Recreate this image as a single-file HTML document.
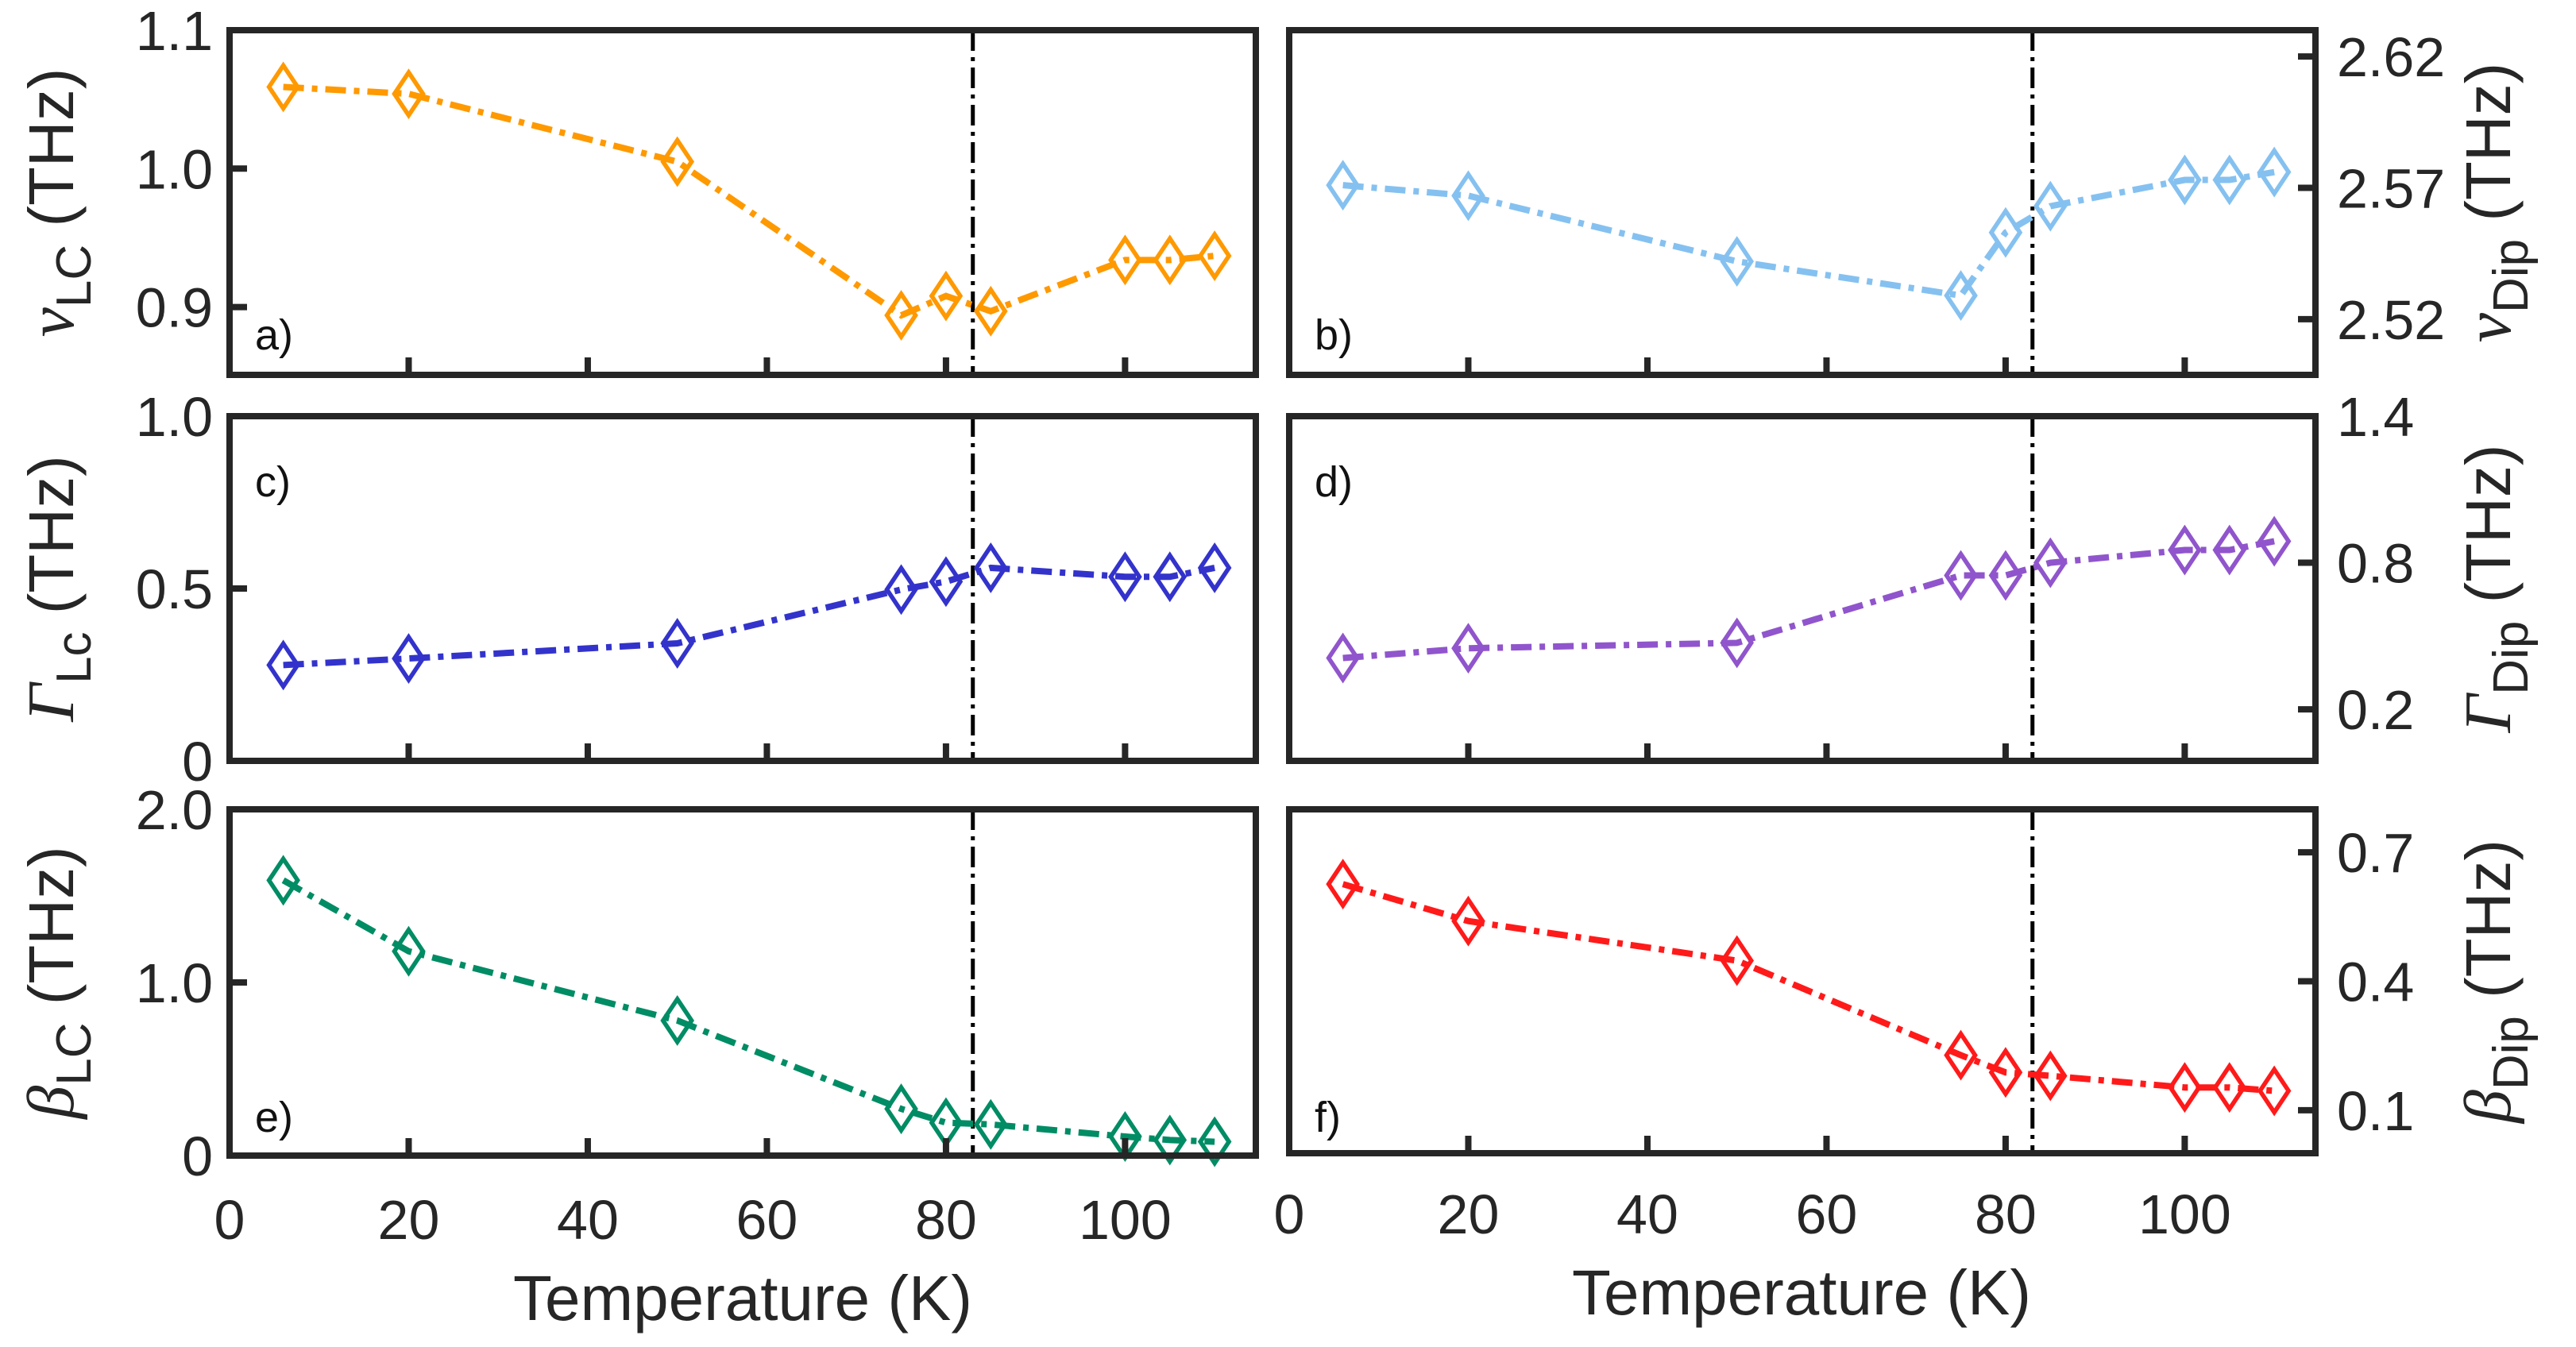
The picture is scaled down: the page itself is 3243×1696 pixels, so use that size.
<!DOCTYPE html>
<html><head><meta charset="utf-8"><style>
html,body{margin:0;padding:0;background:#fff;}
svg{display:block;font-family:"Liberation Sans",Arial,sans-serif;}
</style></head><body>
<svg id="chart" width="3243" height="1696" viewBox="0 0 3243 1696" xmlns="http://www.w3.org/2000/svg"></svg>
<script>
const temps = [6, 20, 50, 75, 80, 85, 100, 105, 110];
const nuLC = [1.059, 1.054, 1.005, 0.894, 0.908, 0.897, 0.934, 0.934, 0.937];
const nuDip = [2.571, 2.567, 2.542, 2.529, 2.553, 2.563, 2.573, 2.573, 2.576];
const gammaLC = [0.278, 0.297, 0.341, 0.497, 0.52, 0.56, 0.534, 0.534, 0.56];
const gammaDip = [0.41, 0.45, 0.472, 0.748, 0.748, 0.80, 0.852, 0.852, 0.888];
const betaLC = [1.59, 1.18, 0.78, 0.27, 0.19, 0.18, 0.11, 0.09, 0.08];
const betaDip = [0.626, 0.54, 0.448, 0.228, 0.188, 0.18, 0.153, 0.153, 0.145];
const xTicks = [0, 20, 40, 60, 80, 100];
const transitionT = 83;
const ticksA = [0.9, 1.0, 1.1], ticksB = [2.52, 2.57, 2.62];
const ticksC = [0, 0.5, 1.0], ticksD = [0.2, 0.8, 1.4];
const ticksE = [0, 1.0, 2.0], ticksF = [0.1, 0.4, 0.7];

const NS = "http://www.w3.org/2000/svg";
const svg = document.getElementById('chart');
function mk(tag, attrs, parent, text) {
  const e = document.createElementNS(NS, tag);
  for (const k in attrs) e.setAttribute(k, attrs[k]);
  if (text !== undefined) e.textContent = text;
  (parent || svg).appendChild(e);
  return e;
}

const panels = [
  {id:'a', x0:289, x1:1581, y0:38, y1:472, ymin:0.851, ymax:1.1, data:nuLC, ticks:ticksA, fmt:v=>v.toFixed(1), side:'left', color:'#FF9900', greek:'ν', sub:'LC', lab:'a)', labY:440},
  {id:'b', x0:1623, x1:2915, y0:38, y1:472, ymin:2.4988, ymax:2.630, data:nuDip, ticks:ticksB, fmt:v=>v.toFixed(2), side:'right', color:'#85C1F0', greek:'ν', sub:'Dip', lab:'b)', labY:440},
  {id:'c', x0:289, x1:1581, y0:524, y1:958, ymin:0, ymax:1.0, data:gammaLC, ticks:ticksC, fmt:v=>v===0?'0':v.toFixed(1), side:'left', color:'#3333CC', greek:'Γ', sub:'Lc', lab:'c)', labY:625},
  {id:'d', x0:1623, x1:2915, y0:524, y1:958, ymin:-0.011, ymax:1.4, data:gammaDip, ticks:ticksD, fmt:v=>v.toFixed(1), side:'right', color:'#9055CC', greek:'Γ', sub:'Dip', lab:'d)', labY:625},
  {id:'e', x0:289, x1:1581, y0:1019, y1:1455, ymin:0, ymax:2.0, data:betaLC, ticks:ticksE, fmt:v=>v===0?'0':v.toFixed(1), side:'left', color:'#008C64', greek:'β', sub:'LC', lab:'e)', labY:1425},
  {id:'f', x0:1623, x1:2915, y0:1019, y1:1452, ymin:0, ymax:0.8, data:betaDip, ticks:ticksF, fmt:v=>v.toFixed(1), side:'right', color:'#FF1A1A', greek:'β', sub:'Dip', lab:'f)', labY:1425}
];

panels.forEach(p => {
  const g = mk('g', {});
  
  
  const xs = t => p.x0 + (t - 0) / 114.6 * (p.x1 - p.x0);
  const ys = v => p.y1 - (v - p.ymin) / (p.ymax - p.ymin) * (p.y1 - p.y0);
  const tl = mk('line', {x1:xs(transitionT), x2:xs(transitionT), y1:p.y0, y2:p.y1, stroke:'#000', 'stroke-width':5, 'stroke-dasharray':'26 8 5 8'}, g);
  
  
  const pts = temps.map((t,i)=> xs(t)+','+ys(p.data[i])).join(' ');
  const pl = mk('polyline', {points:pts, fill:'none', stroke:p.color, 'stroke-width':8, 'stroke-dasharray':'26 10 7 10'}, g);
  
  
  temps.forEach((t,i)=>{
    const cx = xs(t), cy = ys(p.data[i]);
    const m = mk('polygon', {points:`${cx},${cy-27} ${cx+18},${cy} ${cx},${cy+27} ${cx-18},${cy}`, fill:'none', stroke:p.color, 'stroke-width':5.5}, g);
    
    
  });
  xTicks.forEach(t=>{
    if (t===0) return;
    mk('line', {x1:xs(t), x2:xs(t), y1:p.y1, y2:p.y1-22, stroke:'#262626', 'stroke-width':8}, g);
  });
  p.ticks.forEach(v=>{
    const y = ys(v);
    if (p.side==='left') {
      mk('line', {x1:p.x0, x2:p.x0+22, y1:y, y2:y, stroke:'#262626', 'stroke-width':8}, g);
      const tx = mk('text', {x:268, y:y+25, 'text-anchor':'end', 'font-size':70, fill:'#262626'}, g, p.fmt(v));
      
      
    } else {
      mk('line', {x1:p.x1, x2:p.x1-22, y1:y, y2:y, stroke:'#262626', 'stroke-width':8}, g);
      const tx = mk('text', {x:2942, y:y+25, 'text-anchor':'start', 'font-size':70, fill:'#262626'}, g, p.fmt(v));
      
      
    }
  });
  const fr = mk('rect', {x:p.x0, y:p.y0, width:p.x1-p.x0, height:p.y1-p.y0, fill:'none', stroke:'#262626', 'stroke-width':8}, g);
  
  
  const pl2 = mk('text', {x:p.x0+32, y:p.labY, 'font-size':54, fill:'#111'}, g, p.lab);
  
  
  const cy = (p.y0+p.y1)/2;
  const cx = p.side==='left' ? 92 : 3160;
  const yt = mk('text', {transform:`translate(${cx},${cy}) rotate(-90)`, 'text-anchor':'middle', 'font-size':80, fill:'#262626'}, g);
  
  
  mk('tspan', {'font-family':'"Liberation Serif",serif', 'font-style':'italic', 'font-size':84}, yt, p.greek);
  mk('tspan', {'font-size':62, dy:22}, yt, p.sub);
  mk('tspan', {dy:-22}, yt, ' (THz)');
  if (p.id==='e' || p.id==='f') {
    const ly = p.id==='e' ? 1560 : 1553;
    xTicks.forEach(t=>{
      const tx = mk('text', {x:xs(t), y:ly, 'text-anchor':'middle', 'font-size':70, fill:'#262626'}, g, String(t));
      
      
    });
    const xt = mk('text', {x:p.id==='e'?935:2268, y:p.id==='e'?1662:1655, 'text-anchor':'middle', 'font-size':80, fill:'#262626'}, g, 'Temperature (K)');
    
    
  }
});
</script>
</body></html>
